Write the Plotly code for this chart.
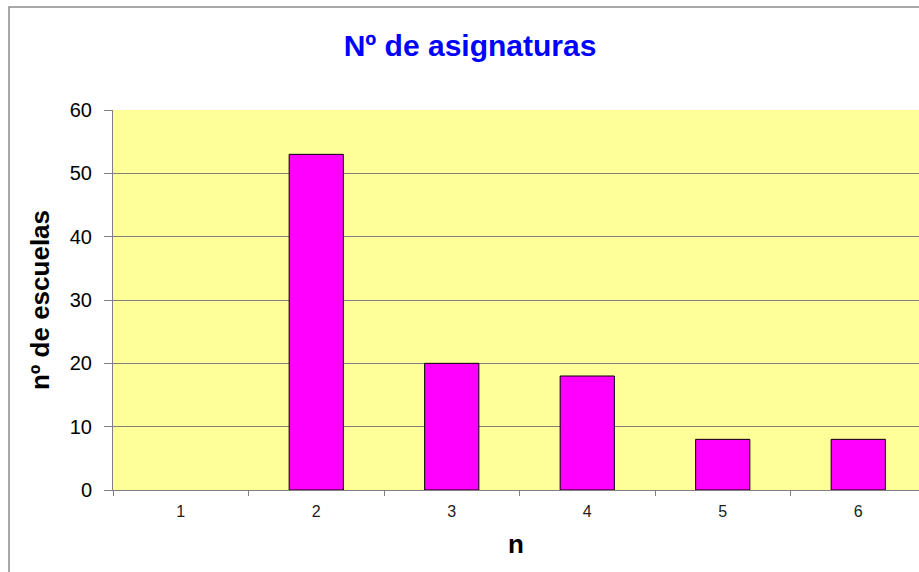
import plotly.graph_objects as go

# data
categories = ['1', '2', '3', '4', '5', '6']
escuelas = [0, 53, 20, 18, 8, 8]
y_ticks = [0, 10, 20, 30, 40, 50, 60]

W, H = 919, 572
M_L, M_T, M_B, M_R = 113, 110, 82, 0
plot_w = W - M_L - M_R
plot_h = H - M_T - M_B

fig = go.Figure()

# empty category keeps no outline (Excel draws nothing for a zero bar)
outline_w = [0 if v == 0 else 1 for v in escuelas]

fig.add_trace(go.Bar(
    x=categories,
    y=escuelas,
    width=0.4,
    marker=dict(color='#FF00FF', line=dict(color='#000000', width=outline_w)),
    hoverinfo='x+y',
))

# outer chart frame (Excel style), partially cropped on right/bottom
fig.add_shape(
    type='rect', xref='paper', yref='paper',
    x0=(9 - M_L) / plot_w, x1=1.2,
    y0=-0.5, y1=(H - M_B - 7) / plot_h,
    line=dict(color='#8c8c8c', width=1.5), fillcolor='rgba(0,0,0,0)',
    layer='below',
)

fig.update_layout(
    width=W, height=H,
    margin=dict(l=M_L, r=M_R, t=M_T, b=M_B),
    paper_bgcolor='white',
    plot_bgcolor='#FFFF99',
    showlegend=False,
    font=dict(family='Liberation Sans, Arial, sans-serif', color='black'),
    title=dict(
        text='<b>Nº de asignaturas</b>',
        font=dict(size=30, color='#0000FF'),
        x=470 / W, xanchor='center',
        y=1 - 45 / H, yanchor='middle',
    ),
    xaxis=dict(
        type='category',
        range=[-0.5, 5.5 - (926 - W) / 135.5],
        tickson='boundaries',
        ticks='outside', ticklen=5, tickcolor='#808080',
        ticklabelstandoff=7,
        tickfont=dict(family='Liberation Sans', size=16, color='#202020'),
        showline=True, linecolor='#808080', linewidth=1,
        showgrid=False,
        title=dict(text='<b>n</b>', font=dict(size=26), standoff=15),
    ),
    yaxis=dict(
        range=[0, 60],
        tickvals=y_ticks,
        ticks='outside', ticklen=8, tickcolor='#808080',
        ticklabelstandoff=8,
        tickfont=dict(size=20),
        showline=True, linecolor='#808080', linewidth=1,
        showgrid=True, gridcolor='#808080', gridwidth=1,
        zeroline=False,
        title=dict(text='<b>nº de escuelas</b>', font=dict(size=26), standoff=12),
    ),
)
fig.update_xaxes(tickfont_size=16)

fig.write_html('out.html', config={'displayModeBar': False},
               post_script="document.body.style.margin='0';")
